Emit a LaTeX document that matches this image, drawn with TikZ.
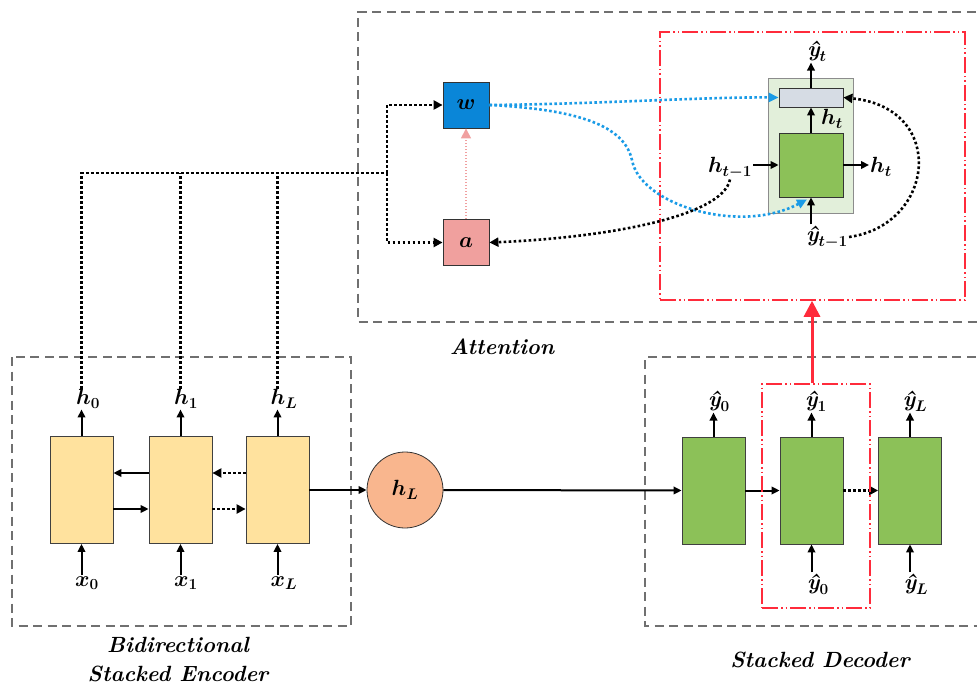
\RequirePackage{fix-cm}
\documentclass[tikz,border=0pt]{standalone}
\usepackage{amsmath}
\usetikzlibrary{arrows.meta,calc}
\definecolor{encfill}{HTML}{FFE29E}
\definecolor{decfill}{HTML}{8CC158}
\definecolor{cellbg}{HTML}{E2EFDA}
\definecolor{outfill}{HTML}{D6DCE4}
\definecolor{wblue}{HTML}{0A86D8}
\definecolor{apink}{HTML}{F0A09E}
\definecolor{hlfill}{HTML}{F9B68E}
\definecolor{frame}{HTML}{707070}
\definecolor{redc}{HTML}{FF2B3B}
\definecolor{bluedot}{HTML}{1A9BE6}
\definecolor{pinkdot}{HTML}{F0A0A0}
\tikzset{
  groupbox/.style={draw=frame, line width=2.4pt, dash pattern=on 9pt off 5.5pt},
  focusbox/.style={draw=redc, line width=1.5pt, dash pattern=on 16pt off 3pt on 1.5pt off 3pt on 1.5pt off 3pt},
  cell/.style={draw=black!75, line width=0.8pt, minimum width=63pt, minimum height=107pt, inner sep=0pt},
  lbl/.style={inner sep=1pt, font=\fontsize{22}{26}\selectfont\boldmath},
  title/.style={font=\fontsize{22}{29}\selectfont\bfseries\itshape, align=center},
  arr/.style={line width=2pt, -{Triangle[length=8pt,width=7.5pt]}},
  dotline/.style={line width=2.6pt, dash pattern=on 2.6pt off 2.4pt},
  dotarr/.style={dotline, -{Triangle[length=9pt,width=9pt]}},
  bluearr/.style={draw=bluedot, line width=2.6pt, dash pattern=on 2.6pt off 2.4pt, -{Triangle[length=10pt,width=9pt,fill=bluedot]}},
  pinkarr/.style={draw=pinkdot, line width=1.2pt, dash pattern=on 1.5pt off 1.5pt, -{Triangle[length=10pt,width=10pt,fill=pinkdot]}},
}
% predicted output symbol: one precomposed glyph
\newcommand{\yh}{\text{\bfseries\itshape ŷ}}
\begin{document}
\begin{tikzpicture}[x=1pt,y=-1pt]
\useasboundingbox (0,0) rectangle (977,687);
\clip (0,0) rectangle (977,687);

% group frames
\draw[groupbox] (990,12) -- (358,12) -- (358,322) -- (990,322);
\draw[groupbox] (12,357) rectangle (351,626);
\draw[groupbox] (990,357) -- (645,357) -- (645,626) -- (990,626);

\node[title] (tatt) at (502,347) {Attention};
\node[title] (tenc) at (178,660) {Bidirectional\\Stacked Encoder};
\node[title] (tdec) at (820,660) {Stacked Decoder};

% encoder cells
\node[cell, fill=encfill] (e1) at (81.5,490) {};
\node[cell, fill=encfill] (e2) at (180.5,490) {};
\node[cell, fill=encfill] (e3) at (277.5,490) {};

\node[lbl] (h0) at (88,399) {$h_0$};
\node[lbl] (h1) at (186,399) {$h_1$};
\node[lbl] (hLe) at (284,399) {$h_L$};
\node[lbl] (x0) at (87,583) {$x_0$};
\node[lbl] (x1) at (186,583) {$x_1$};
\node[lbl] (xL) at (284,583) {$x_L$};

\foreach \c/\h/\x in {e1/h0/x0, e2/h1/x1, e3/hLe/xL}{
  \draw[arr] (\c.north) -- (\c.north |- \h.south);
  \draw[arr] (\c.south |- \x.north) -- (\c.south);
}
\draw[arr] (e2.west |- 0,473) -- (e1.east |- 0,473);
\draw[arr] (e1.east |- 0,509) -- (e2.west |- 0,509);
\draw[dotarr] (e3.west |- 0,473) -- (e2.east |- 0,473);
\draw[dotarr] (e2.east |- 0,509) -- (e3.west |- 0,509);

% final encoder state
\node[circle, draw=black!80, line width=0.8pt, fill=hlfill, minimum size=76pt, inner sep=0pt,
      font=\fontsize{22}{26}\selectfont\boldmath] (hl) at (405,490) {$h_L$};
\draw[arr] (e3.east) -- (hl.west);

% decoder cells
\node[cell, fill=decfill] (d1) at (713.5,490.5) {};
\node[cell, fill=decfill] (d2) at (811.5,490.5) {};
\node[cell, fill=decfill] (d3) at (910,490.5) {};
\draw[arr] (hl.east) -- (d1.west);
\draw[arr] (d1.east) -- (d2.west);
\draw[dotarr] (d2.east) -- (d3.west);

\node[lbl] (yo0) at (719,401) {$\yh_0$};
\node[lbl] (yo1) at (816,401) {$\yh_1$};
\node[lbl] (yoL) at (915,401) {$\yh_L$};
\node[lbl] (yi0) at (818,584) {$\yh_0$};
\node[lbl] (yiL) at (916,584) {$\yh_L$};
\foreach \c/\o in {d1/yo0, d2/yo1, d3/yoL}{
  \draw[arr] (\c.north) -- (\c.north |- \o.south);
}
\draw[arr] (d2.south |- yi0.north) -- (d2.south);
\draw[arr] (d3.south |- yiL.north) -- (d3.south);

% highlighted decoder step and its expansion
\node[focusbox, minimum width=108pt, minimum height=224pt, inner sep=0pt] (fsmall) at (816,496) {};
\node[focusbox, minimum width=305pt, minimum height=268pt, inner sep=0pt] (fbig) at (812.5,166) {};
\draw[draw=redc, line width=3pt, -{Triangle[length=16pt,width=16pt,fill=redc]}] (fsmall.north -| 812,0) -- (fbig.south -| 812,0);

\node[draw=black!45, line width=0.8pt, fill=cellbg, minimum width=85pt, minimum height=135pt, inner sep=0pt] (bg) at (810.5,145.5) {};
\node[draw=black!80, line width=0.8pt, fill=outfill, minimum width=64pt, minimum height=19pt, inner sep=0pt] (out) at (811,97.5) {};
\node[draw=black!80, line width=0.8pt, fill=decfill, minimum width=64pt, minimum height=64pt, inner sep=0pt] (dc) at (811,165) {};

\node[lbl] (yt) at (817,51) {$\yh_t$};
\node[lbl] (htu) at (832,119) {$h_t$};
\node[lbl] (htm) at (730,168) {$h_{t-1}$};
\node[lbl] (htr) at (881,167) {$h_t$};
\node[lbl] (ytm) at (827,237) {$\yh_{t-1}$};
\draw[arr] (out.north) -- (out.north |- yt.south);
\draw[arr] (dc.north) -- (out.south);
\draw[arr] (htm.east |- dc.west) -- (dc.west);
\draw[arr] (dc.east) -- (htr.west |- dc.east);
\draw[arr] (dc.south |- ytm.north) -- (dc.south);

% attention block
\node[draw=black!80, line width=0.8pt, fill=wblue, minimum size=46pt, inner sep=0pt,
      font=\fontsize{22}{26}\selectfont\boldmath] (w) at (466,105) {$w$};
\node[draw=black!80, line width=0.8pt, fill=apink, minimum size=46pt, inner sep=0pt,
      font=\fontsize{22}{26}\selectfont\boldmath] (a) at (466,242.5) {$a$};
\draw[pinkarr] (a.north) -- (w.south);

\coordinate (j) at (387,173);
\draw[dotline] (e1.north |- h0.north) -- (e1.north |- j) -- (j);
\draw[dotline] (e2.north |- h1.north) -- (e2.north |- j);
\draw[dotline] (e3.north |- hLe.north) -- (e3.north |- j);
\draw[dotarr] (j) |- (w.west);
\draw[dotarr] (j) |- (a.west);

\draw[bluearr] (w.east) .. controls (600,104) and (700,97) .. (out.west);
\draw[bluearr] (w.east) .. controls (590,110) and (625,130) .. (632,160)
  .. controls (640,205) and (740,235) .. ($(dc.south)+(-4,2)$);
\draw[dotarr] (htm.south) .. controls (722,218) and (600,238) .. (a.east);
\draw[dotarr] (ytm.east) .. controls (935,225) and (948,108) .. (out.east);
\end{tikzpicture}
\end{document}
